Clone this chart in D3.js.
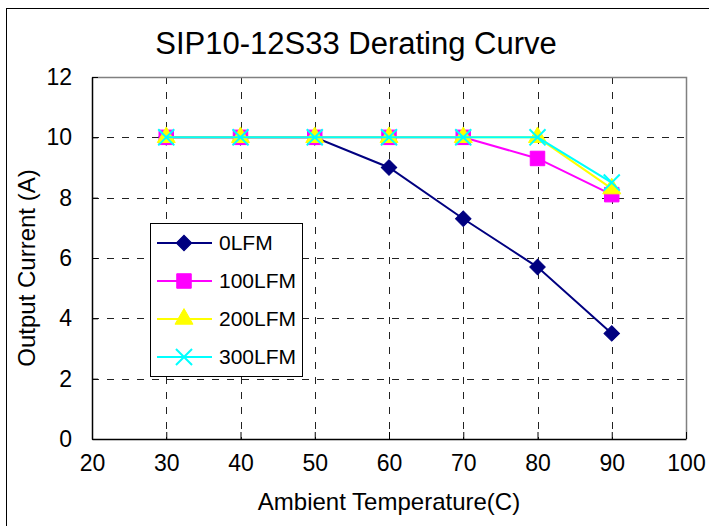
<!DOCTYPE html>
<html>
<head>
<meta charset="utf-8">
<script src="https://cdn.jsdelivr.net/npm/d3@7"></script>
<style>
  body { margin: 0; background: #fff; }
  text { font-family: "Liberation Sans", Arial, sans-serif; fill: #000; }
</style>
</head>
<body>
<script>
// Chart values
var temps = [30, 40, 50, 60, 70, 80, 90]
var lfm0 = [10, 10, 10, 9, 7.3, 5.7, 3.5]
var lfm100 = [10, 10, 10, 10, 10, 9.3, 8.1]
var lfm200 = [10, 10, 10, 10, 10, 10, 8.3]
var lfm300 = [10, 10, 10, 10, 10, 10, 8.5]
var seriesNames = ["0LFM", "100LFM", "200LFM", "300LFM"]
var xTicks = [20, 30, 40, 50, 60, 70, 80, 90, 100]
var yTicks = [0, 2, 4, 6, 8, 10, 12]

// Styles for each series (marker shape, colour, size)
var timesSymbol = d3.symbolTimes || d3.symbolX
var styles = [
  {color: "#000080", symbol: d3.symbolSquare, size: 120, rotate: 45, fill: true},
  {color: "#ff00ff", symbol: d3.symbolSquare, size: 210, rotate: 0, fill: true},
  {color: "#ffff00", symbol: d3.symbolTriangle, size: 140, rotate: 0, fill: true},
  {color: "#00ffff", symbol: timesSymbol, size: 170, rotate: 0, fill: false}
]
var allValues = [lfm0, lfm100, lfm200, lfm300]

// Size of the page and the plot area
var svgW = 709
var svgH = 526
var plotLeft = 92
var plotTop = 77
var plotW = 594
var plotH = 362

var svg = d3.select("body")
            .append("svg")
            .attr("width", svgW)
            .attr("height", svgH)

// Outer chart border
svg.append("rect")
   .attr("x", 6.5)
   .attr("y", 8.5)
   .attr("width", 740)
   .attr("height", 560)
   .style("fill", "none")
   .style("stroke", "#000")
   .style("stroke-width", 1)

// Title
svg.append("text")
   .attr("x", 356)
   .attr("y", 54)
   .style("text-anchor", "middle")
   .style("font-size", "31px")
   .text("SIP10-12S33 Derating Curve")

// Scales
var xScale = d3.scaleLinear()
               .domain([20, 100])
               .range([0, plotW])

var yScale = d3.scaleLinear()
               .domain([0, 12])
               .range([plotH, 0])

var plot = svg.append("g")
              .attr("transform", "translate(" + plotLeft + "," + plotTop + ")")

// Dashed grid lines
plot.selectAll(".vgrid")
    .data(xTicks.slice(1, -1))
    .enter()
    .append("line")
      .attr("x1", function(d) { return Math.round(xScale(d)) + 0.5 })
      .attr("x2", function(d) { return Math.round(xScale(d)) + 0.5 })
      .attr("y1", 0)
      .attr("y2", plotH)
      .style("stroke", "#222")
      .style("stroke-dasharray", "7,8")

plot.selectAll(".hgrid")
    .data(yTicks.slice(1, -1))
    .enter()
    .append("line")
      .attr("x1", 0)
      .attr("x2", plotW)
      .attr("y1", function(d) { return Math.round(yScale(d)) + 0.5 })
      .attr("y2", function(d) { return Math.round(yScale(d)) + 0.5 })
      .style("stroke", "#222")
      .style("stroke-dasharray", "7,8")

// Grey top and right border of the plot area
plot.append("path")
    .attr("d", "M0,0.5H" + (plotW + 0.5) + "V" + plotH)
    .style("fill", "none")
    .style("stroke", "#808080")
    .style("stroke-width", 1.5)

// Axes
var xAxis = d3.axisBottom(xScale)
              .tickValues(xTicks)
              .tickSizeInner(-7)
              .tickSizeOuter(0)
              .tickPadding(16)
var gx = plot.append("g")
             .attr("transform", "translate(0," + plotH + ")")
             .call(xAxis)

var yAxis = d3.axisLeft(yScale)
              .tickValues(yTicks)
              .tickSizeInner(-6)
              .tickSizeOuter(0)
              .tickPadding(20)
var gy = plot.append("g")
             .call(yAxis)

svg.selectAll(".tick text")
   .style("font-size", "23px")
   .style("font-family", "'Liberation Sans', Arial, sans-serif")
svg.selectAll(".domain")
   .style("stroke", "#000")
   .style("stroke-width", 1.5)
gx.selectAll(".tick line").style("stroke", "#000")
gy.selectAll(".tick line").style("stroke", "#000")

// Axis titles
svg.append("text")
   .attr("x", plotLeft + plotW / 2)
   .attr("y", 510)
   .style("text-anchor", "middle")
   .style("font-size", "24px")
   .text("Ambient Temperature(C)")

svg.append("text")
   .attr("transform", "translate(35," + (plotTop + plotH / 2 + 10) + ") rotate(-90)")
   .style("text-anchor", "middle")
   .style("font-size", "24px")
   .text("Output Current (A)")

// Draw each series: line then markers
var line = d3.line()
             .x(function(d) { return xScale(d.t) })
             .y(function(d) { return yScale(d.v) })

function symbolPath(st) {
  return d3.symbol().type(st.symbol).size(st.size)()
}

allValues.forEach(function(values, i) {
  var st = styles[i]
  var points = temps.map(function(t, j) { return {t: t, v: values[j]} })

  plot.append("path")
      .datum(points)
      .attr("d", line)
      .style("fill", "none")
      .style("stroke", st.color)
      .style("stroke-width", 2)

  plot.selectAll(".marker" + i)
      .data(points)
      .enter()
      .append("path")
        .attr("d", symbolPath(st))
        .attr("transform", function(d) {
          return "translate(" + xScale(d.t) + "," + yScale(d.v) + ") rotate(" + st.rotate + ")"
        })
        .style("fill", st.fill ? st.color : "none")
        .style("stroke", st.color)
        .style("stroke-width", st.fill ? 1 : 2)
})

// Legend
var legend = svg.append("g")
                .attr("transform", "translate(150,223)")

legend.append("rect")
      .attr("x", 0.5)
      .attr("y", 0.5)
      .attr("width", 152)
      .attr("height", 153)
      .style("fill", "#fff")
      .style("stroke", "#000")
      .style("stroke-width", 1)

var rows = legend.selectAll(".row")
                 .data(seriesNames)
                 .enter()
                 .append("g")
                   .attr("transform", function(d, i) { return "translate(0," + (20 + 38 * i) + ")" })

rows.append("line")
    .attr("x1", 7)
    .attr("x2", 62)
    .attr("y1", 0)
    .attr("y2", 0)
    .style("stroke", function(d, i) { return styles[i].color })
    .style("stroke-width", 2)

rows.append("path")
    .attr("d", function(d, i) { return symbolPath(styles[i]) })
    .attr("transform", function(d, i) { return "translate(34,0) rotate(" + styles[i].rotate + ")" })
    .style("fill", function(d, i) { return styles[i].fill ? styles[i].color : "none" })
    .style("stroke", function(d, i) { return styles[i].color })
    .style("stroke-width", function(d, i) { return styles[i].fill ? 1 : 2 })

rows.append("text")
    .attr("x", 69)
    .attr("y", 7)
    .style("font-size", "21px")
    .text(function(d) { return d })
</script>
</body>
</html>
